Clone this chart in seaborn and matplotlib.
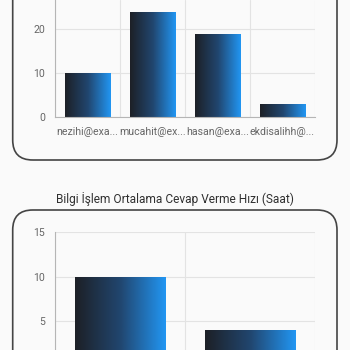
import numpy as np
import pandas as pd
import matplotlib
matplotlib.use("Agg")
import matplotlib.pyplot as plt
import seaborn as sns
from matplotlib.patches import FancyBboxPatch
from matplotlib.colors import LinearSegmentedColormap

# ---- data ----
top_users = ["nezihi@exa...", "mucahit@ex...", "hasan@exa...", "ekdisalihh@..."]
top_values = [10, 24, 19, 3]
top_ticks = [0, 10, 20]

bottom_title = "Bilgi İşlem Ortalama Cevap Verme Hızı (Saat)"
bottom_users = ["nezihi@exa...", "mucahit@ex..."]
bottom_values = [10, 4]
bottom_ticks = [5, 10, 15]

sns.set_theme(style="white")
plt.rcParams["font.family"] = ["Roboto", "DejaVu Sans"]

BG = "#fafafa"
GRID = "#e3e3e3"
AXC = "#b5b5b5"
TXT = "#666666"
cmap = LinearSegmentedColormap.from_list("g", ["#1d2026", "#21466f", "#2196f3"])

W = H = 350.0
fig = plt.figure(figsize=(3.5, 3.5), dpi=100, facecolor=BG)


def px_axes(left, top, right, bottom):
    return fig.add_axes([left / W, 1 - bottom / H, (right - left) / W, (bottom - top) / H])


def style_axes(ax, n, ymax, ticks, show_xlabels=True):
    ax.set_facecolor(BG)
    ax.set_xlim(-0.5, n - 0.5)
    ax.set_ylim(0, ymax)
    ax.set_yticks(ticks)
    ax.set_yticklabels([str(t) for t in ticks])
    for s in ["top", "right"]:
        ax.spines[s].set_visible(False)
    for s in ["left", "bottom"]:
        ax.spines[s].set_color(AXC)
        ax.spines[s].set_linewidth(0.8)
    for t in ticks:
        ax.axhline(t, color=GRID, lw=0.8, zorder=0)
    for b in np.arange(-0.5, n, 1.0):
        ax.axvline(b, color=GRID, lw=0.8, zorder=0)
    ax.set_xticks(np.arange(-0.5, n, 1.0), minor=True)
    ax.set_xticks(range(n))
    if not show_xlabels:
        ax.set_xticklabels([""] * n)
    ax.tick_params(axis="x", which="major", length=0, labelsize=7.6, labelcolor=TXT, pad=7)
    ax.tick_params(axis="x", which="minor", length=4, color=AXC, width=0.8)
    ax.tick_params(axis="y", length=4, color=AXC, width=0.8, labelsize=7.6, labelcolor=TXT, pad=3)
    ax.set_xlabel("")
    ax.set_ylabel("")


def gradient_bars(ax, n):
    grad = np.linspace(0, 1, 256).reshape(1, -1)
    for p in list(ax.patches):
        x0, y0 = p.get_x(), p.get_y()
        w, h = p.get_width(), p.get_height()
        p.set_facecolor("none")
        p.set_edgecolor("none")
        im = ax.imshow(grad, cmap=cmap, aspect="auto", extent=[x0, x0 + w, y0, y0 + h],
                       zorder=2, interpolation="bilinear")
        im.set_clip_path(p)
    ax.set_xlim(-0.5, n - 0.5)


# ---- top chart ----
ax1 = px_axes(55, 0, 315, 117.3)
df1 = pd.DataFrame({"user": top_users, "value": top_values})
sns.barplot(data=df1, x="user", y="value", ax=ax1, width=0.7, color="#2196f3")
style_axes(ax1, len(top_users), 117.3 / 4.4, top_ticks)
gradient_bars(ax1, len(top_users))
ax1.set_ylim(0, 117.3 / 4.4)

# ---- bottom chart ----
ax2 = px_axes(55, 232.3, 315, 365.3)
df2 = pd.DataFrame({"user": bottom_users, "value": bottom_values})
sns.barplot(data=df2, x="user", y="value", ax=ax2, width=0.7, color="#2196f3")
style_axes(ax2, len(bottom_users), 15, bottom_ticks, show_xlabels=False)
gradient_bars(ax2, len(bottom_users))
ax2.set_ylim(0, 15)

fig.text(0.5, 1 - 199 / H, bottom_title, ha="center", va="center", fontsize=8.6, color="#303030")

# rounded cards
r = 20 / W
box1 = FancyBboxPatch((12.7 / W, 1 - 160 / H), (337 - 12.7) / W, 0.6,
                      boxstyle=f"round,pad=0,rounding_size={r}", transform=fig.transFigure,
                      facecolor="none", edgecolor="#444444", linewidth=1.2, zorder=10)
box2 = FancyBboxPatch((12.7 / W, -0.3), (337 - 12.7) / W, (0.3 + 1 - 210 / H),
                      boxstyle=f"round,pad=0,rounding_size={r}", transform=fig.transFigure,
                      facecolor="none", edgecolor="#444444", linewidth=1.2, zorder=10)
fig.patches.extend([box1, box2])

fig.savefig("out.png", dpi=100, facecolor=BG)
